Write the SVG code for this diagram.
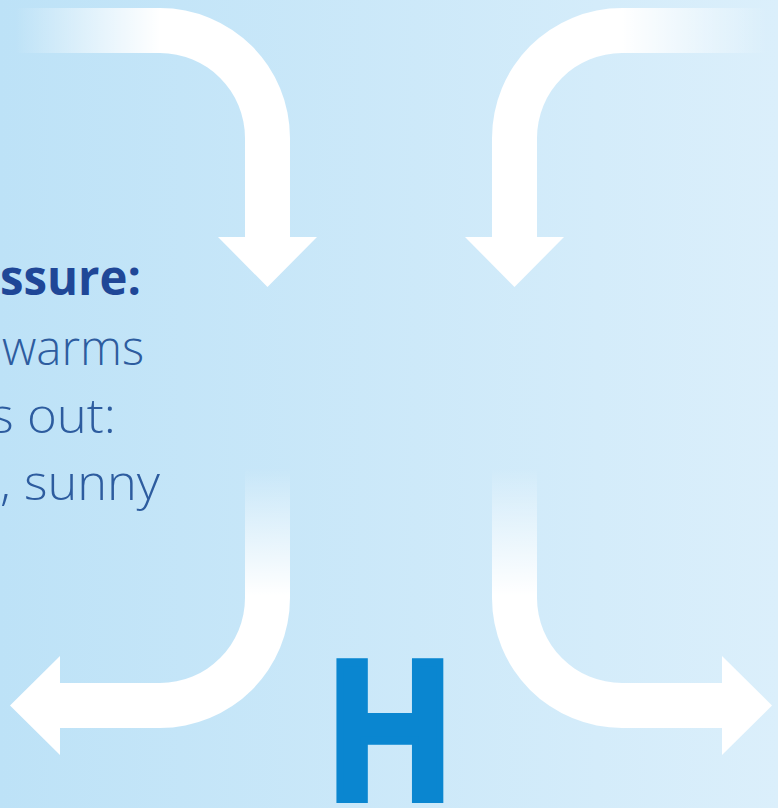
<svg xmlns="http://www.w3.org/2000/svg" width="778" height="808" viewBox="0 0 778 808">
  <defs>
    <linearGradient id="bg" x1="0" y1="0" x2="1" y2="0">
      <stop offset="0" stop-color="#bde2f7"/>
      <stop offset="1" stop-color="#dbeffb"/>
    </linearGradient>
    <linearGradient id="gTL" gradientUnits="userSpaceOnUse" x1="15" y1="0" x2="160" y2="0">
      <stop offset="0" stop-color="#fff" stop-opacity="0"/>
      <stop offset="1" stop-color="#fff" stop-opacity="1"/>
    </linearGradient>
    <linearGradient id="gTR" gradientUnits="userSpaceOnUse" x1="767" y1="0" x2="622" y2="0">
      <stop offset="0" stop-color="#fff" stop-opacity="0"/>
      <stop offset="1" stop-color="#fff" stop-opacity="1"/>
    </linearGradient>
    <linearGradient id="gB" gradientUnits="userSpaceOnUse" x1="0" y1="468" x2="0" y2="595">
      <stop offset="0" stop-color="#fff" stop-opacity="0"/>
      <stop offset="1" stop-color="#fff" stop-opacity="1"/>
    </linearGradient>
  </defs>
  <style>
    .line { font-family: "Open Sans", "Liberation Sans", sans-serif; font-size: 48px; font-weight: 300; fill: #2d5c9f; }
    .bold { font-family: "Open Sans", "Liberation Sans", sans-serif; font-size: 48px; font-weight: 700; fill: #1f4797; }
    .big { font-family: "Liberation Sans", Arial, sans-serif; font-size: 199px; font-weight: 700; fill: #0a86d0; stroke: #0a86d0; stroke-width: 8; stroke-linejoin: miter; }
  </style>
  <rect x="0" y="0" width="778" height="808" fill="url(#bg)"/>

  <g id="connectors">
    <path id="arrow-top-left" fill="url(#gTL)" d="M15,8 H160 A130,130 0 0 1 290,138 V237 H317 L267.5,287 L218,237 H245 V138 A85,85 0 0 0 160,53 H15 Z"/>
    <path id="arrow-top-right" fill="url(#gTR)" d="M767,8 H622 A130,130 0 0 0 492,138 V237 H465 L514.5,287 L564,237 H537 V138 A85,85 0 0 1 622,53 H767 Z"/>
    <path id="arrow-bottom-left" fill="url(#gB)" d="M245,468 H290 V598 A130,130 0 0 1 160,728 H60 V755 L10,705.5 L60,656 V683 H160 A85,85 0 0 0 245,598 Z"/>
    <path id="arrow-bottom-right" fill="url(#gB)" d="M537,468 H492 V598 A130,130 0 0 0 622,728 H722 V755 L772,705.5 L722,656 V683 H622 A85,85 0 0 1 537,598 Z"/>
  </g>

  <g id="caption">
    <text class="bold" x="0" y="295" textLength="141" lengthAdjust="spacingAndGlyphs">ssure:</text>
    <text class="line" x="2" y="365" textLength="142" lengthAdjust="spacingAndGlyphs">warms</text>
    <text class="line" x="-10" y="433" textLength="126" lengthAdjust="spacingAndGlyphs">s out:</text>
    <text class="line" x="0" y="500" textLength="160" lengthAdjust="spacingAndGlyphs">, sunny</text>
  </g>

  <g id="high">
    <text class="big" transform="translate(341,799) scale(0.855,1)" x="-14.5" y="0">H</text>
  </g>
</svg>
